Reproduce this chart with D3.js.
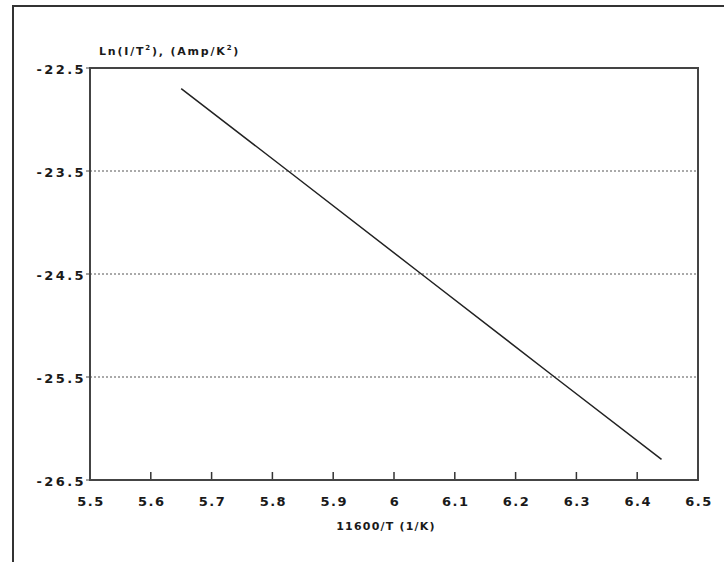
<!DOCTYPE html>
<html>
<head>
<meta charset="utf-8">
<script src="https://cdn.jsdelivr.net/npm/d3@7"></script>
<style>
  body { margin: 0; background: #fff; }
  svg { display: block; }
  text { font-family: "DejaVu Sans", sans-serif; font-weight: bold; fill: #1a1a1a; }
</style>
</head>
<body>
<svg width="724" height="562"></svg>
<script>
// data
const xTicks = [5.5, 5.6, 5.7, 5.8, 5.9, 6, 6.1, 6.2, 6.3, 6.4, 6.5];
const yTicks = [-22.5, -23.5, -24.5, -25.5, -26.5];
const invT = [5.65, 5.826, 6.045, 6.264, 6.44];
const lnIT2 = [-22.7, -23.5, -24.5, -25.5, -26.3];

const svg = d3.select("svg");

// outer frame (left and top only)
svg.append("path")
  .attr("d", "M13,562V6H724")
  .attr("fill", "none")
  .attr("stroke", "#333")
  .attr("stroke-width", 2);

const m = { left: 90, right: 698, top: 68, bottom: 480 };

const x = d3.scaleLinear().domain([5.5, 6.5]).range([m.left, m.right]);
const y = d3.scaleLinear().domain([-22.5, -26.5]).range([m.top, m.bottom]);

// grid lines
svg.append("g")
  .selectAll("line")
  .data(yTicks.slice(1, -1))
  .enter().append("line")
  .attr("x1", m.left).attr("x2", m.right)
  .attr("y1", d => y(d)).attr("y2", d => y(d))
  .attr("stroke", "#555")
  .attr("stroke-width", 1)
  .attr("stroke-dasharray", "2,2");

// y tick labels + small ticks
svg.append("g")
  .selectAll("text")
  .data(yTicks)
  .enter().append("text")
  .attr("x", m.left - 4)
  .attr("y", d => y(d) + 6)
  .attr("text-anchor", "end")
  .attr("font-size", 13)
  .attr("letter-spacing", 2.4)
  .text(d => d.toFixed(1));

svg.append("g")
  .selectAll("line")
  .data(yTicks)
  .enter().append("line")
  .attr("x1", m.left - 4).attr("x2", m.left)
  .attr("y1", d => y(d)).attr("y2", d => y(d))
  .attr("stroke", "#444");

// x ticks (inside, upward)
svg.append("g")
  .selectAll("line")
  .data(xTicks.slice(1, -1))
  .enter().append("line")
  .attr("x1", d => x(d)).attr("x2", d => x(d))
  .attr("y1", m.bottom).attr("y2", m.bottom - 8)
  .attr("stroke", "#333")
  .attr("stroke-width", 1.5);

svg.append("g")
  .selectAll("text")
  .data(xTicks)
  .enter().append("text")
  .attr("x", d => x(d) + 1)
  .attr("y", m.bottom + 26)
  .attr("text-anchor", "middle")
  .attr("font-size", 13)
  .attr("letter-spacing", 1.5)
  .text(d => d === 6 ? "6" : d.toFixed(1));

// plot frame
svg.append("rect")
  .attr("x", m.left).attr("y", m.top)
  .attr("width", m.right - m.left).attr("height", m.bottom - m.top)
  .attr("fill", "none")
  .attr("stroke", "#444")
  .attr("stroke-width", 2);

// data line
const pts = invT.map((v, i) => [v, lnIT2[i]]);
svg.append("path")
  .datum(pts)
  .attr("d", d3.line().x(d => x(d[0])).y(d => y(d[1])))
  .attr("fill", "none")
  .attr("stroke", "#222")
  .attr("stroke-width", 1.5);

// axis titles
const yl = svg.append("text")
  .attr("x", 99)
  .attr("y", 55)
  .attr("font-size", 11)
  .attr("letter-spacing", 1.8);
yl.append("tspan").text("Ln(I/T");
yl.append("tspan").attr("dy", -5).attr("font-size", 7).text("2");
yl.append("tspan").attr("dy", 5).text("), (Amp/K");
yl.append("tspan").attr("dy", -5).attr("font-size", 7).text("2");
yl.append("tspan").attr("dy", 5).text(")");

svg.append("text")
  .attr("x", 386)
  .attr("y", m.bottom + 50)
  .attr("text-anchor", "middle")
  .attr("font-size", 11)
  .attr("letter-spacing", 1.2)
  .text("11600/T (1/K)");
</script>
</body>
</html>
